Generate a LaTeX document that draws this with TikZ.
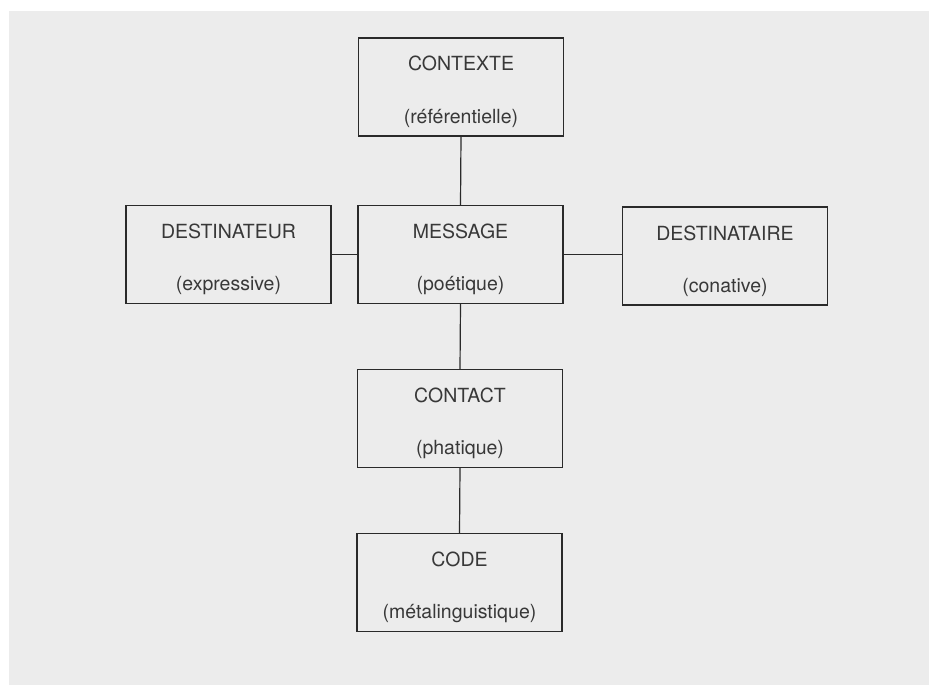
\documentclass[tikz,border=0pt]{standalone}
\usepackage{fontspec}
\setmainfont{TeX Gyre Heros}
\begin{document}
\begin{tikzpicture}[x=1pt,y=-1pt,
  boxst/.style={draw=boxcol, line width=1.5pt, rectangle, inner sep=0pt, outer sep=0pt, minimum width=205pt, minimum height=98pt},
  lab/.style={anchor=base, inner sep=0pt, text=txtcol, font=\fontsize{19.5}{23}\selectfont},
  conn/.style={draw=boxcol, line width=1.2pt}]
\definecolor{boxcol}{HTML}{2A2A2A}
\definecolor{txtcol}{HTML}{383838}
\definecolor{bgcol}{HTML}{ECECEC}
\useasboundingbox (0,0) rectangle (929,697);
\fill[white] (0,0) rectangle (929,697);
\fill[bgcol] (9,11) rectangle (929,685);
% boxes
\node[boxst] (ctx) at (461,87) {};
\node[boxst] (dtr) at (228.5,254.5) {};
\node[boxst] (msg) at (460.5,254.5) {};
\node[boxst] (dta) at (725,256) {};
\node[boxst] (cnt) at (460,418.5) {};
\node[boxst] (cod) at (459.5,582.5) {};
% labels
\node[lab] (ctx1) at (461,70) {CONTEXTE};
\node[lab] (ctx2) at (461,123) {(référentielle)};
\node[lab] (dtr1) at (228.5,238) {DESTINATEUR};
\node[lab] (dtr2) at (228.5,290) {(expressive)};
\node[lab] (msg1) at (460.5,238) {MESSAGE};
\node[lab] (msg2) at (460.5,290) {(poétique)};
\node[lab] (dta1) at (725,240) {DESTINATAIRE};
\node[lab] (dta2) at (725,292) {(conative)};
\node[lab] (cnt1) at (460,402) {CONTACT};
\node[lab] (cnt2) at (460,454) {(phatique)};
\node[lab] (cod1) at (459.5,566) {CODE};
\node[lab] (cod2) at (459.5,618) {(métalinguistique)};
% connectors
\draw[conn] (ctx.south) -- (msg.north);
\draw[conn] (msg.south) -- (cnt.north);
\draw[conn] (cnt.south) -- (cod.north);
\draw[conn] (dtr.east) -- (msg.west);
\draw[conn] (msg.east) -- (msg.east -| dta.west);
\end{tikzpicture}
\end{document}
